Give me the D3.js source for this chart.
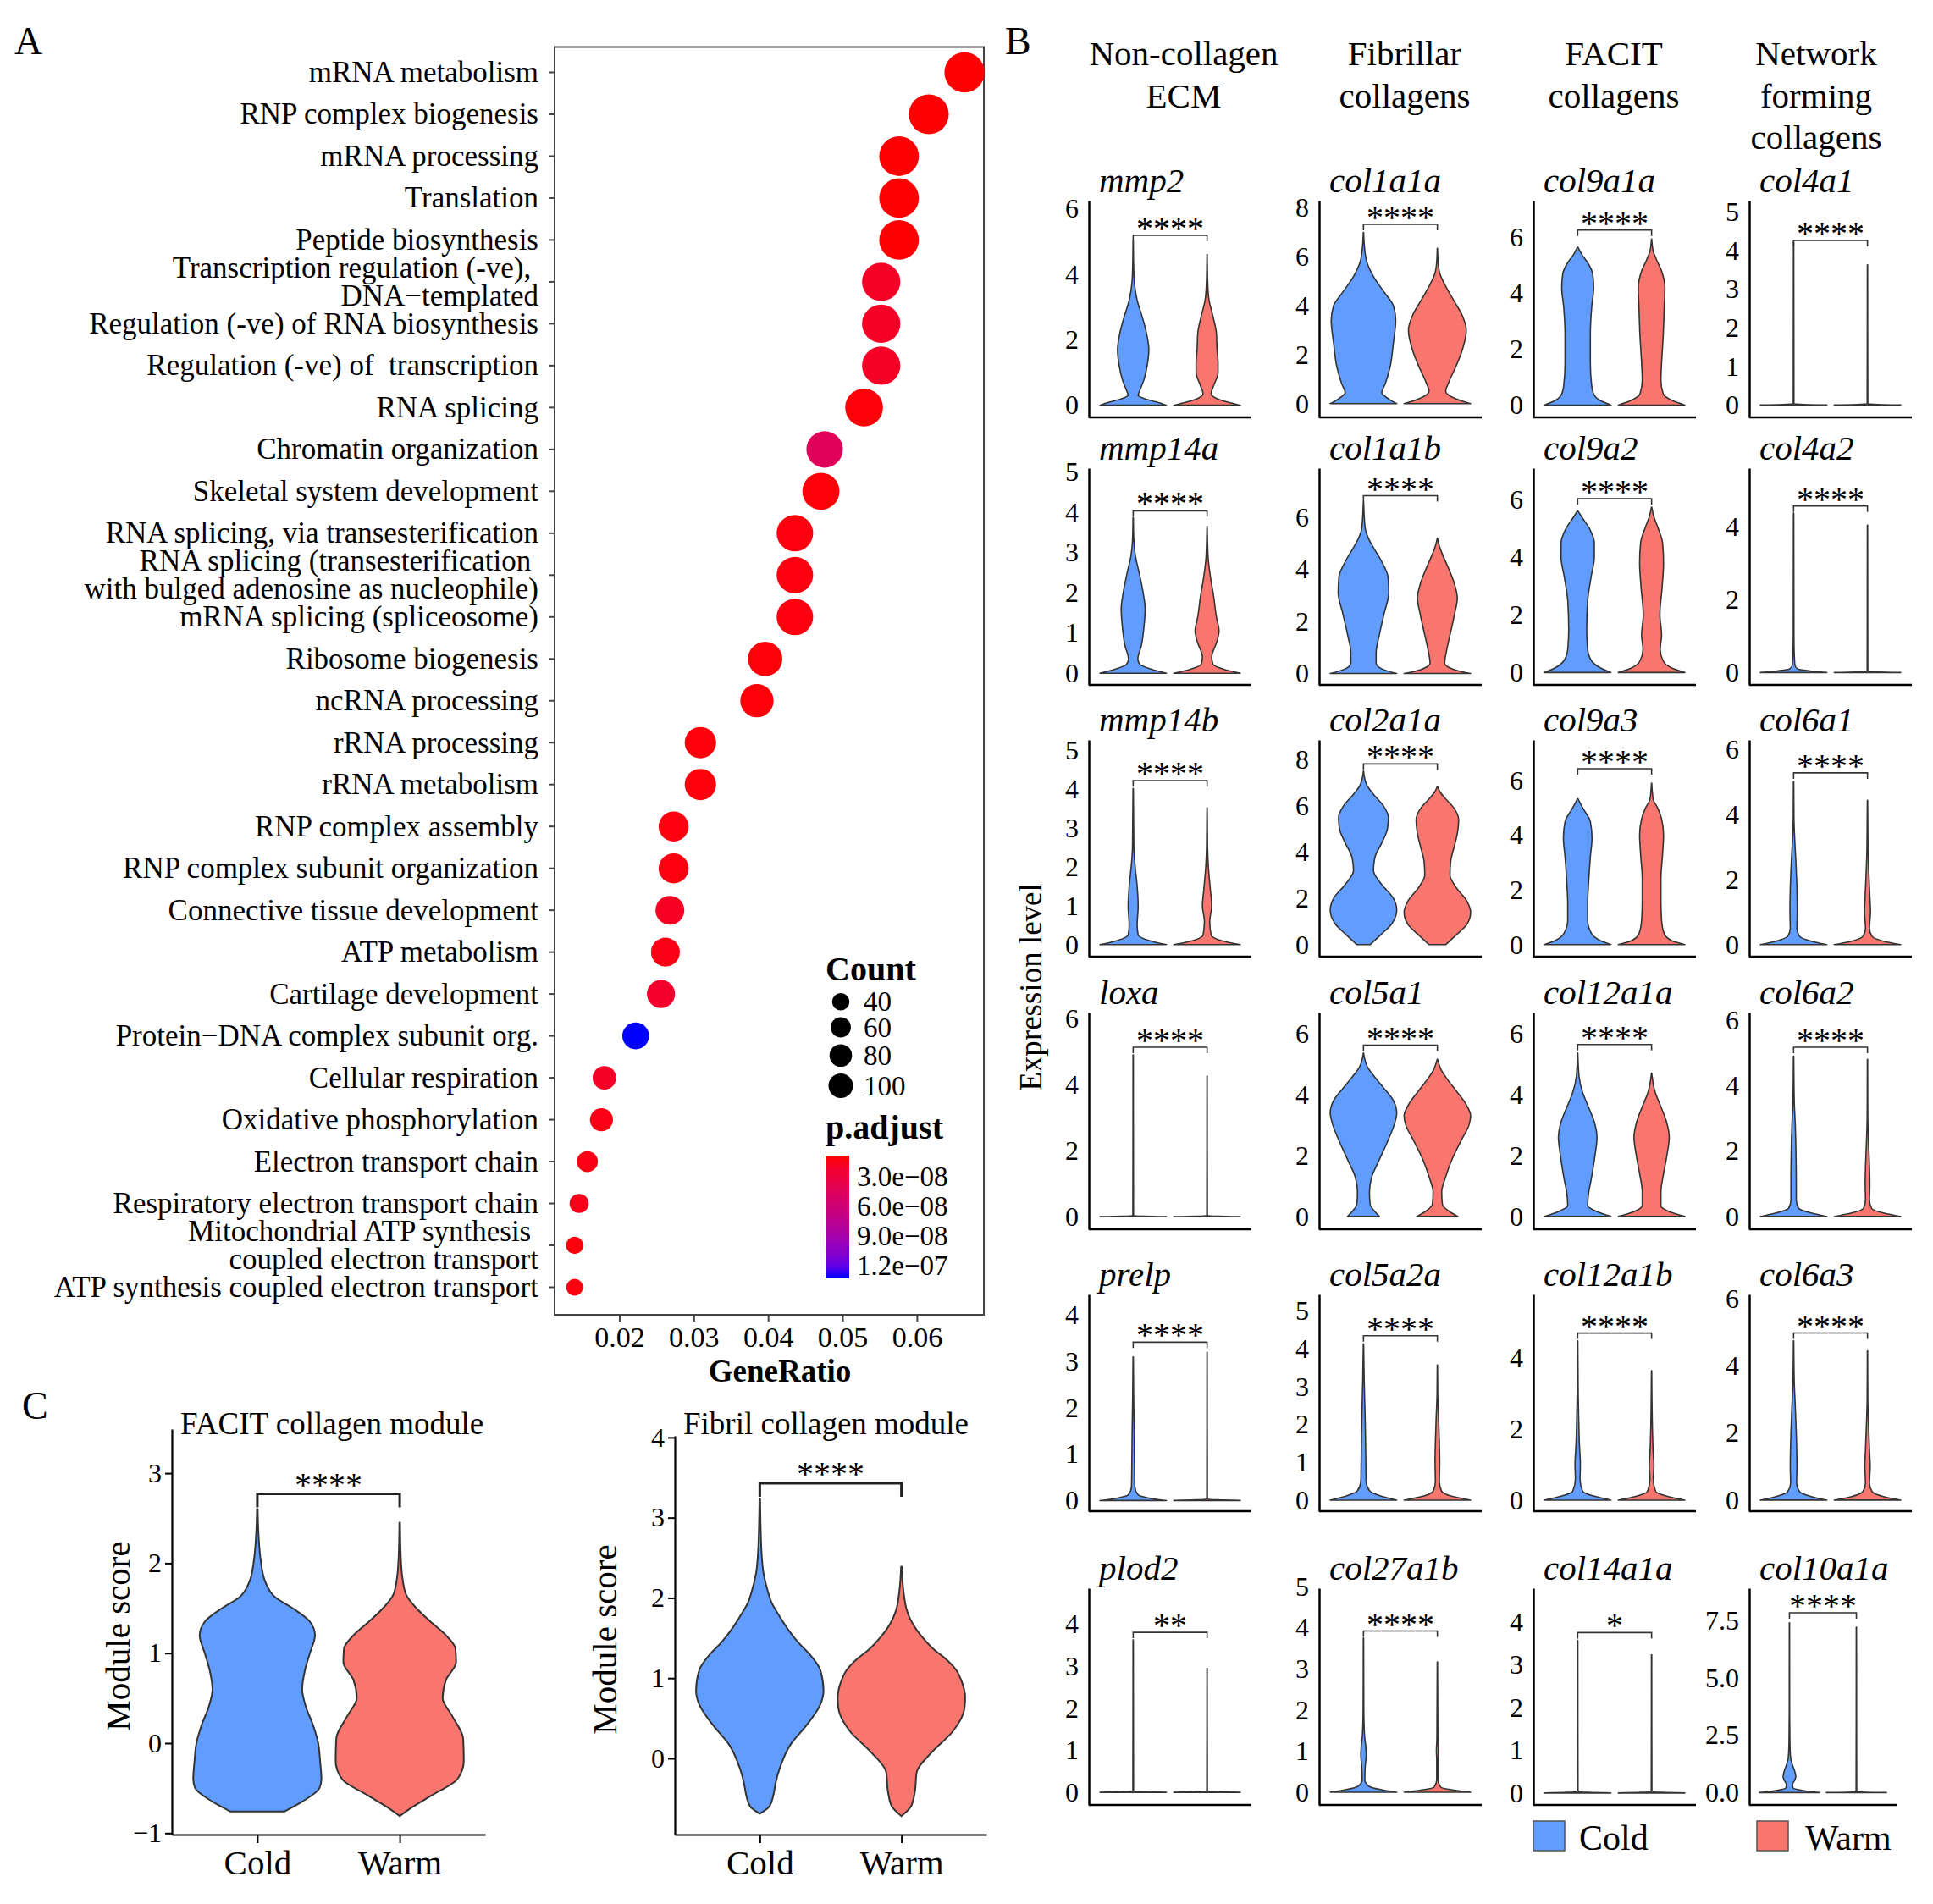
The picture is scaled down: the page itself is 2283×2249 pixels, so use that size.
<!DOCTYPE html>
<html>
<head>
<meta charset="utf-8">
<script src="https://cdn.jsdelivr.net/npm/d3@7"></script>
<style>
  body { margin: 0; background: #fff; }
  svg text { font-family: "Liberation Serif", "Times New Roman", serif; fill: #000; }
</style>
</head>
<body>
<svg id="fig" width="2283" height="2249"></svg>
<script>
// ---------------- Panel A data ----------------
const goTerms = [
  "mRNA metabolism", "RNP complex biogenesis", "mRNA processing", "Translation", "Peptide biosynthesis",
  "Transcription regulation (-ve), \nDNA\u2212templated", "Regulation (-ve) of RNA biosynthesis",
  "Regulation (-ve) of  transcription", "RNA splicing", "Chromatin organization", "Skeletal system development",
  "RNA splicing, via transesterification", "RNA splicing (transesterification \nwith bulged adenosine as nucleophile)",
  "mRNA splicing (spliceosome)", "Ribosome biogenesis", "ncRNA processing", "rRNA processing", "rRNA metabolism",
  "RNP complex assembly", "RNP complex subunit organization", "Connective tissue development", "ATP metabolism",
  "Cartilage development", "Protein\u2212DNA complex subunit org.", "Cellular respiration", "Oxidative phosphorylation",
  "Electron transport chain", "Respiratory electron transport chain",
  "Mitochondrial ATP synthesis \ncoupled electron transport", "ATP synthesis coupled electron transport"
];
const geneRatio = [0.0664, 0.0616, 0.0576, 0.0576, 0.0576, 0.0552, 0.0552, 0.0552, 0.0529, 0.0476,
  0.0471, 0.0436, 0.0436, 0.0436, 0.0396, 0.0385, 0.0309, 0.0309, 0.0273, 0.0273,
  0.0268, 0.0262, 0.0256, 0.0222, 0.0180, 0.0176, 0.0157, 0.0146, 0.0140, 0.0140];
const geneCount = [327, 321, 317, 317, 317, 293, 293, 293, 284, 261,
  272, 261, 261, 261, 228, 210, 183, 183, 164, 164,
  149, 149, 140, 124, 90, 85, 67, 52, 39, 36];
const pAdjust = [9e-9, 9e-9, 9e-9, 9e-9, 9e-9, 2.0e-8, 2.0e-8, 2.0e-8, 1.0e-8, 4.5e-8,
  1.0e-8, 1.2e-8, 1.2e-8, 1.2e-8, 1.0e-8, 1.0e-8, 1.1e-8, 1.1e-8, 1.2e-8, 1.2e-8,
  1.8e-8, 1.3e-8, 2.2e-8, 1.33e-7, 2.0e-8, 1.3e-8, 1.3e-8, 1.5e-8, 1.1e-8, 1.2e-8];
const xTicksA = [0.02, 0.03, 0.04, 0.05, 0.06];
const countBreaks = [40, 60, 80, 100];
const pBreaks = [3e-8, 6e-8, 9e-8, 1.2e-7];

// ---------------- Panel B data ----------------
const groups = ["Cold", "Warm"];
const groupHeaders = [["Non-collagen", "ECM"], ["Fibrillar", "collagens"], ["FACIT", "collagens"], ["Network", "forming", "collagens"]];
const bGenes = ["mmp2", "col1a1a", "col9a1a", "col4a1",
  "mmp14a", "col1a1b", "col9a2", "col4a2",
  "mmp14b", "col2a1a", "col9a3", "col6a1",
  "loxa", "col5a1", "col12a1a", "col6a2",
  "prelp", "col5a2a", "col12a1b", "col6a3",
  "plod2", "col27a1b", "col14a1a", "col10a1a"];
const bTicks = [[0, 2, 4, 6], [0, 2, 4, 6, 8], [0, 2, 4, 6], [0, 1, 2, 3, 4, 5],
  [0, 1, 2, 3, 4, 5], [0, 2, 4, 6], [0, 2, 4, 6], [0, 2, 4],
  [0, 1, 2, 3, 4, 5], [0, 2, 4, 6, 8], [0, 2, 4, 6], [0, 2, 4, 6],
  [0, 2, 4, 6], [0, 2, 4, 6], [0, 2, 4, 6], [0, 2, 4, 6],
  [0, 1, 2, 3, 4], [0, 1, 2, 3, 4, 5], [0, 2, 4], [0, 2, 4, 6],
  [0, 1, 2, 3, 4], [0, 1, 2, 3, 4, 5], [0, 1, 2, 3, 4], [0, 2.5, 5, 7.5]];
const bRange = [[-0.37, 6.24], [-0.56, 8.30], [-0.44, 7.32], [-0.32, 5.29],
  [-0.29, 5.10], [-0.44, 7.90], [-0.43, 7.09], [-0.34, 5.60],
  [-0.31, 5.27], [-0.52, 8.85], [-0.44, 7.48], [-0.37, 6.28],
  [-0.38, 6.18], [-0.42, 6.69], [-0.42, 6.69], [-0.39, 6.23],
  [-0.23, 4.45], [-0.29, 5.43], [-0.31, 5.81], [-0.33, 6.13],
  [-0.30, 4.86], [-0.31, 4.96], [-0.28, 4.80], [-0.54, 8.90]];
const bBracket = [5.18, 7.33, 6.27, 4.26, 4.04, 6.84, 6.03, 4.56, 4.22, 7.81, 6.43, 5.27,
  5.13, 5.62, 5.64, 5.17, 3.42, 4.34, 4.72, 4.98, 3.81, 3.92, 3.76, 7.83];
const bSignif = ["****", "****", "****", "****", "****", "****", "****", "****", "****", "****", "****", "****",
  "****", "****", "****", "****", "****", "****", "****", "****", "**", "****", "*", "****"];
// violin outlines: [expression value, relative half-width]
const bCold = [
  [[0,1],[0.1,0.7],[0.2,0.35],[0.3,0.15],[0.45,0.2],[0.8,0.33],[1.2,0.42],[1.7,0.47],[2.2,0.4],[2.7,0.27],[3.2,0.12],[3.7,0.04],[4.2,0.015],[5.0,0.004]],
  [[0,1],[0.2,0.75],[0.45,0.55],[0.8,0.65],[1.5,0.8],[2.5,0.9],[3.4,0.97],[4.0,0.9],[4.6,0.6],[5.2,0.3],[5.8,0.1],[6.4,0.03],[7.0,0.004]],
  [[0,1],[0.15,0.7],[0.35,0.5],[0.7,0.42],[1.5,0.38],[2.5,0.38],[3.5,0.42],[4.2,0.48],[4.7,0.45],[5.1,0.3],[5.4,0.12],[5.65,0.01]],
  [[0,1],[0.03,0.01],[4.22,0.004]],
  [[0,1],[0.1,0.55],[0.22,0.2],[0.35,0.14],[0.7,0.25],[1.2,0.33],[1.6,0.36],[2.0,0.3],[2.5,0.18],[2.9,0.07],[3.3,0.02],[3.87,0.004]],
  [[0,1],[0.15,0.6],[0.4,0.38],[0.8,0.38],[1.5,0.48],[2.3,0.62],[3.1,0.76],[3.7,0.74],[4.3,0.55],[4.8,0.32],[5.2,0.15],[5.6,0.05],[6.6,0.004]],
  [[0,1],[0.15,0.7],[0.4,0.42],[0.8,0.3],[1.5,0.27],[2.5,0.3],[3.3,0.4],[4.0,0.5],[4.5,0.5],[5.0,0.35],[5.4,0.12],[5.6,0.01]],
  [[0,1],[0.05,0.45],[0.1,0.12],[0.2,0.04],[0.5,0.02],[1.0,0.01],[4.37,0.004]],
  [[0,1],[0.1,0.5],[0.25,0.15],[0.5,0.12],[1.0,0.15],[1.5,0.12],[2.0,0.06],[2.5,0.02],[4.02,0.004]],
  [[0,0.2],[0.4,0.5],[0.9,0.85],[1.5,1.0],[2.0,0.9],[2.6,0.55],[3.2,0.3],[3.8,0.35],[4.4,0.55],[5.0,0.72],[5.5,0.75],[6.0,0.6],[6.5,0.3],[6.9,0.1],[7.3,0.02],[7.5,0.004]],
  [[0,1],[0.15,0.68],[0.4,0.42],[0.9,0.3],[1.5,0.3],[2.3,0.33],[3.2,0.38],[3.9,0.43],[4.5,0.38],[4.9,0.2],[5.2,0.06],[5.33,0.01]],
  [[0,1],[0.1,0.55],[0.25,0.18],[0.5,0.1],[1.0,0.11],[1.7,0.1],[2.5,0.07],[3.3,0.03],[3.9,0.01],[5.0,0.004]],
  [[0,1],[0.03,0.01],[4.9,0.004]],
  [[0,0.48],[0.15,0.35],[0.4,0.2],[0.8,0.18],[1.3,0.25],[1.8,0.45],[2.4,0.7],[3.0,0.92],[3.4,1.0],[3.8,0.9],[4.2,0.62],[4.6,0.32],[4.9,0.12],[5.2,0.03],[5.36,0.004]],
  [[0,1],[0.15,0.6],[0.35,0.3],[0.7,0.32],[1.3,0.42],[2.0,0.52],[2.6,0.58],[3.1,0.5],[3.6,0.32],[4.1,0.14],[4.6,0.04],[5.36,0.004]],
  [[0,1],[0.1,0.55],[0.25,0.15],[0.5,0.08],[1.0,0.08],[2.0,0.07],[2.8,0.05],[3.5,0.02],[4.9,0.004]],
  [[0,1],[0.05,0.5],[0.12,0.15],[0.3,0.05],[0.8,0.04],[1.5,0.03],[2.2,0.015],[3.1,0.004]],
  [[0,1],[0.1,0.55],[0.25,0.18],[0.5,0.08],[1.0,0.07],[1.7,0.06],[2.5,0.04],[3.2,0.02],[4.13,0.004]],
  [[0,1],[0.1,0.55],[0.25,0.15],[0.6,0.07],[1.0,0.08],[1.6,0.05],[2.3,0.03],[3.0,0.015],[4.5,0.004]],
  [[0,1],[0.1,0.55],[0.25,0.18],[0.5,0.09],[1.0,0.1],[2.0,0.08],[2.8,0.05],[3.5,0.02],[4.75,0.004]],
  [[0,1],[0.03,0.01],[3.63,0.004]],
  [[0,1],[0.05,0.6],[0.15,0.15],[0.3,0.04],[0.6,0.05],[0.9,0.08],[1.1,0.07],[1.4,0.03],[2.0,0.01],[3.75,0.004]],
  [[0,1],[0.03,0.01],[3.58,0.004]],
  [[0,1],[0.08,0.5],[0.2,0.12],[0.35,0.1],[0.55,0.18],[0.7,0.21],[0.9,0.18],[1.2,0.1],[1.5,0.04],[2.2,0.015],[3.5,0.006],[7.4,0.004]]
];
const bWarm = [
  [[0,1],[0.1,0.6],[0.2,0.3],[0.35,0.12],[0.6,0.2],[1.0,0.33],[1.3,0.33],[1.7,0.3],[2.2,0.28],[2.7,0.18],[3.2,0.06],[3.7,0.02],[4.6,0.004]],
  [[0,1],[0.2,0.55],[0.5,0.25],[0.9,0.35],[1.5,0.55],[2.2,0.75],[3.0,0.87],[3.6,0.75],[4.2,0.5],[4.8,0.25],[5.3,0.08],[5.8,0.02],[6.35,0.004]],
  [[0,1],[0.15,0.65],[0.4,0.35],[0.9,0.28],[1.5,0.3],[2.5,0.35],[3.5,0.38],[4.2,0.4],[4.8,0.3],[5.2,0.15],[5.5,0.05],[5.95,0.004]],
  [[0,1],[0.03,0.01],[3.63,0.004]],
  [[0,1],[0.1,0.5],[0.22,0.18],[0.4,0.14],[0.8,0.3],[1.05,0.36],[1.4,0.28],[1.9,0.2],[2.4,0.1],[2.9,0.03],[3.65,0.004]],
  [[0,1],[0.15,0.5],[0.4,0.22],[0.9,0.28],[1.6,0.4],[2.3,0.52],[2.9,0.6],[3.5,0.5],[4.0,0.35],[4.5,0.18],[4.9,0.06],[5.2,0.004]],
  [[0,1],[0.15,0.62],[0.4,0.35],[0.8,0.26],[1.3,0.3],[2.0,0.25],[3.0,0.32],[3.8,0.36],[4.5,0.33],[5.0,0.2],[5.4,0.07],[5.74,0.004]],
  [[0,1],[0.03,0.01],[4.04,0.004]],
  [[0,1],[0.1,0.45],[0.25,0.12],[0.6,0.08],[1.0,0.14],[1.4,0.1],[2.0,0.04],[2.5,0.015],[3.52,0.004]],
  [[0,0.25],[0.4,0.55],[0.9,0.9],[1.4,1.0],[1.9,0.88],[2.5,0.55],[3.0,0.38],[3.6,0.4],[4.2,0.5],[4.8,0.6],[5.4,0.64],[5.9,0.5],[6.3,0.25],[6.6,0.08],[6.84,0.004]],
  [[0,1],[0.15,0.6],[0.4,0.38],[0.9,0.3],[1.6,0.28],[2.4,0.28],[3.3,0.33],[4.0,0.36],[4.6,0.3],[5.0,0.18],[5.3,0.05],[5.9,0.004]],
  [[0,1],[0.1,0.5],[0.25,0.14],[0.5,0.06],[1.0,0.09],[1.5,0.07],[2.2,0.04],[3.0,0.015],[4.43,0.004]],
  [[0,1],[0.03,0.01],[4.26,0.004]],
  [[0,0.62],[0.15,0.38],[0.4,0.15],[0.8,0.13],[1.3,0.25],[1.9,0.45],[2.5,0.72],[3.0,0.95],[3.3,1.0],[3.7,0.85],[4.1,0.58],[4.5,0.3],[4.8,0.12],[5.16,0.004]],
  [[0,1],[0.15,0.55],[0.35,0.28],[0.8,0.28],[1.4,0.36],[2.0,0.46],[2.6,0.53],[3.1,0.45],[3.6,0.28],[4.1,0.1],[4.7,0.004]],
  [[0,1],[0.1,0.5],[0.25,0.12],[0.5,0.06],[1.0,0.07],[1.5,0.06],[2.3,0.03],[3.0,0.01],[4.8,0.004]],
  [[0,1],[0.03,0.01],[3.2,0.004]],
  [[0,1],[0.1,0.45],[0.25,0.12],[0.5,0.06],[1.0,0.07],[1.5,0.06],[2.2,0.035],[2.8,0.01],[3.57,0.004]],
  [[0,1],[0.1,0.5],[0.25,0.12],[0.6,0.05],[1.0,0.07],[1.3,0.05],[2.0,0.025],[3.66,0.004]],
  [[0,1],[0.1,0.5],[0.25,0.14],[0.5,0.06],[1.0,0.08],[1.5,0.06],[2.3,0.03],[3.0,0.01],[4.45,0.004]],
  [[0,1],[0.03,0.01],[2.95,0.004]],
  [[0,1],[0.05,0.5],[0.12,0.1],[0.3,0.02],[0.8,0.02],[1.0,0.03],[1.3,0.015],[3.17,0.004]],
  [[0,1],[0.03,0.01],[3.24,0.004]],
  [[0,1],[0.03,0.01],[7.2,0.004]]
];

// ---------------- Panel C data ----------------
const cModules = ["FACIT collagen module", "Fibril collagen module"];
const cTicks = [[-1, 0, 1, 2, 3], [0, 1, 2, 3, 4]];
const cRange = [[-1.016, 3.49], [-0.95, 4.02]];
const cBracket = [2.77, 3.43];
const cCold = [
  [[-0.76,0.42],[-0.65,0.7],[-0.5,0.97],[-0.4,1.0],[-0.2,0.98],[0.0,0.95],[0.2,0.87],[0.4,0.76],[0.6,0.7],[0.8,0.74],[1.0,0.82],[1.2,0.9],[1.35,0.82],[1.5,0.55],[1.62,0.28],[1.8,0.12],[2.05,0.05],[2.3,0.02],[2.6,0.005]],
  [[-0.69,0.0],[-0.6,0.15],[-0.47,0.21],[-0.3,0.25],[-0.13,0.31],[0.17,0.48],[0.42,0.74],[0.67,0.95],[0.84,1.0],[1.1,0.95],[1.3,0.78],[1.43,0.62],[1.6,0.45],[1.77,0.31],[1.95,0.18],[2.07,0.13],[2.3,0.06],[2.6,0.025],[3.24,0.005]]
];
const cWarm = [
  [[-0.81,0.0],[-0.7,0.22],[-0.58,0.5],[-0.4,0.9],[-0.2,1.0],[0.05,0.99],[0.3,0.82],[0.5,0.67],[0.7,0.72],[0.9,0.88],[1.05,0.87],[1.2,0.72],[1.35,0.48],[1.5,0.26],[1.65,0.1],[1.85,0.04],[2.1,0.015],[2.45,0.005]],
  [[-0.72,0.0],[-0.6,0.15],[-0.42,0.21],[-0.17,0.24],[0.08,0.48],[0.34,0.81],[0.63,0.99],[0.76,1.0],[0.95,0.95],[1.1,0.86],[1.25,0.68],[1.35,0.52],[1.5,0.34],[1.6,0.24],[1.75,0.13],[1.86,0.08],[2.1,0.03],[2.39,0.005]]
];

const groupColor = d3.scaleOrdinal().domain(groups).range(["#619CFF", "#F8766D"]);
const OUTLINE = "#333333";

const svg = d3.select("#fig");

// panel letters
[["A", 17, 64], ["B", 1187, 64], ["C", 26, 1676]].forEach(([t, x, y]) => {
  svg.append("text").attr("x", x).attr("y", y).attr("font-size", 46).text(t);
});

// ================= Panel A: dot plot =================
const boxA = { left: 655, right: 1162, top: 55.5, bottom: 1553 };
const xA = d3.scaleLinear().domain([0.0113, 0.069]).range([boxA.left, boxA.right]);
const yA = d3.scalePoint().domain(goTerms).range([85.5, 1520.5]);
const rA = d3.scaleSqrt().domain([40, 100]).range([10.3, 14.5]);
const colA = d3.scaleLinear().domain([8.6e-9, 1.33e-7]).range(["#ff0000", "#0000ff"])
  .interpolate(d3.interpolateLab).clamp(true);

const gA = svg.append("g");
gA.append("rect")
  .attr("x", boxA.left).attr("y", boxA.top)
  .attr("width", boxA.right - boxA.left).attr("height", boxA.bottom - boxA.top)
  .attr("fill", "none").attr("stroke", "#444").attr("stroke-width", 2);

// y ticks + term labels (multi-line where needed)
goTerms.forEach(t => {
  const y = yA(t);
  gA.append("line").attr("x1", boxA.left - 7).attr("x2", boxA.left)
    .attr("y1", y).attr("y2", y).attr("stroke", "#444").attr("stroke-width", 2);
  const lines = t.split("\n");
  lines.forEach((ln, k) => {
    gA.append("text")
      .attr("x", 636)
      .attr("y", y + (k - (lines.length - 1) / 2) * 33)
      .attr("text-anchor", "end")
      .attr("dominant-baseline", "central")
      .attr("font-size", 35)
      .style("white-space", "pre")
      .text(ln);
  });
});

// dots
gA.selectAll("circle.go")
  .data(goTerms.map((t, i) => ({ term: t, ratio: geneRatio[i], count: geneCount[i], p: pAdjust[i] })))
  .join("circle")
  .attr("class", "go")
  .attr("cx", d => xA(d.ratio))
  .attr("cy", d => yA(d.term))
  .attr("r", d => rA(d.count))
  .attr("fill", d => colA(d.p));

// x axis
const axA = gA.append("g")
  .attr("transform", `translate(0,${boxA.bottom})`)
  .call(d3.axisBottom(xA).tickValues(xTicksA).tickFormat(d3.format(".2f")).tickSize(8).tickPadding(6))
  .attr("font-family", null).attr("font-size", 34);
axA.select(".domain").remove();
axA.selectAll("line").attr("stroke", "#444").attr("stroke-width", 2);

gA.append("text").attr("x", 921).attr("y", 1632).attr("text-anchor", "middle")
  .attr("font-size", 37).attr("font-weight", "bold").text("GeneRatio");

// Count legend
gA.append("text").attr("x", 975).attr("y", 1158).attr("font-size", 40).attr("font-weight", "bold").text("Count");
let ky = 1169;
countBreaks.forEach(c => {
  const r = rA(c);
  const cy = ky + r + 4;
  gA.append("circle").attr("cx", 993).attr("cy", cy).attr("r", r).attr("fill", "#000");
  gA.append("text").attr("x", 1020).attr("y", cy).attr("dominant-baseline", "central")
    .attr("font-size", 33).text(c);
  ky = cy + r + 4;
});

// p.adjust colour bar
gA.append("text").attr("x", 975).attr("y", 1345).attr("font-size", 40).attr("font-weight", "bold").text("p.adjust");
const barY = d3.scaleLinear().domain(colA.domain()).range([1365, 1510]);
const grad = svg.append("defs").append("linearGradient").attr("id", "pgrad")
  .attr("x1", 0).attr("y1", 0).attr("x2", 0).attr("y2", 1);
d3.range(0, 1.0001, 0.1).forEach(t => {
  grad.append("stop").attr("offset", t)
    .attr("stop-color", colA(colA.domain()[0] + t * (colA.domain()[1] - colA.domain()[0])));
});
gA.append("rect").attr("x", 975).attr("y", barY.range()[0]).attr("width", 28)
  .attr("height", barY.range()[1] - barY.range()[0]).attr("fill", "url(#pgrad)");
const sciFmt = v => {
  const [m, e] = d3.format(".1e")(v).split("e");
  const ev = +e;
  return m + "e" + (ev < 0 ? "\u2212" : "+") + String(Math.abs(ev)).padStart(2, "0");
};
pBreaks.forEach(p => {
  gA.append("text").attr("x", 1012).attr("y", barY(p)).attr("dominant-baseline", "central")
    .attr("font-size", 33).text(sciFmt(p));
});

// ================= Panel B: violin grid =================
const colX = [1286, 1558, 1811, 2066];
const rowTop = [237, 553, 874, 1196, 1529, 1876];
const panelH = 256;
const gB = svg.append("g");

// column headers
const headerX = [1398, 1659, 1906, 2145];
groupHeaders.forEach((lines, c) => {
  lines.forEach((ln, k) => {
    gB.append("text").attr("x", headerX[c]).attr("y", 77 + k * 49.5)
      .attr("text-anchor", "middle").attr("font-size", 41).text(ln);
  });
});

function violinArea(y, cx, half) {
  return d3.area()
    .y(d => y(d[0]))
    .x0(d => cx - d[1] * half)
    .x1(d => cx + d[1] * half)
    .curve(d3.curveMonotoneY);
}

bGenes.forEach((gene, i) => {
  const r = Math.floor(i / 4), c = i % 4;
  const x0 = colX[c], top = rowTop[r], bottom = top + panelH;
  const w = (r === 5 && c === 3) ? 174 : 192;
  const y = d3.scaleLinear().domain(bRange[i]).range([bottom, top]);
  const x = d3.scalePoint().domain(groups).range([x0, x0 + w]).padding(0.6);
  const half = x.step() * 0.45;
  const g = gB.append("g");

  // violins
  [bCold[i], bWarm[i]].forEach((prof, k) => {
    g.append("path")
      .attr("d", violinArea(y, x(groups[k]), half)(prof))
      .attr("fill", groupColor(groups[k]))
      .attr("stroke", OUTLINE).attr("stroke-width", 1.6).attr("stroke-linejoin", "round");
  });

  // y axis
  const isDec = bTicks[i].some(t => t % 1 !== 0);
  const ay = g.append("g").attr("transform", `translate(${x0},0)`)
    .call(d3.axisLeft(y).tickValues(bTicks[i]).tickFormat(d3.format(isDec ? ".1f" : "d"))
      .tickSize(0).tickSizeOuter(0).tickPadding(12))
    .attr("font-family", null).attr("font-size", 32);
  ay.select(".domain").attr("stroke", "#000").attr("stroke-width", 2.5);
  // x axis line
  g.append("line").attr("x1", x0).attr("x2", x0 + w).attr("y1", bottom).attr("y2", bottom)
    .attr("stroke", "#000").attr("stroke-width", 2.5);

  // gene title
  g.append("text").attr("x", x0 + 12).attr("y", top - 10)
    .attr("font-size", 41).attr("font-style", "italic").text(gene);

  // significance bracket
  const yb = y(bBracket[i]), tip = 7;
  const xa = x(groups[0]), xb = x(groups[1]);
  g.append("path")
    .attr("d", `M${xa},${yb + tip}V${yb}H${xb}V${yb + tip}`)
    .attr("fill", "none").attr("stroke", OUTLINE).attr("stroke-width", 1.6);
  g.append("text").attr("x", (xa + xb) / 2).attr("y", yb + 5)
    .attr("text-anchor", "middle").attr("font-size", 40).text(bSignif[i]);
});

gB.append("text")
  .attr("transform", "translate(1217,1166) rotate(-90)")
  .attr("text-anchor", "middle").attr("dominant-baseline", "central")
  .attr("font-size", 37).text("Expression level");

// group legend
[[1811, 1865], [2075, 2132]].forEach(([bx, tx], k) => {
  gB.append("rect").attr("x", bx).attr("y", 2151).attr("width", 37).attr("height", 35)
    .attr("fill", groupColor(groups[k])).attr("stroke", "#555").attr("stroke-width", 1.5);
  gB.append("text").attr("x", tx).attr("y", 2185).attr("font-size", 42).text(groups[k]);
});

// ================= Panel C: module score violins =================
const cAxisX = [203, 797], cAxisR = [573, 1165], cTop = [1688, 1696], cBottom = 2167;
const cLabelX = [139, 714];
const gC = svg.append("g");

cModules.forEach((name, k) => {
  const x0 = cAxisX[k], x1 = cAxisR[k];
  const y = d3.scaleLinear().domain(cRange[k]).range([cBottom, cTop[k]]);
  const x = d3.scalePoint().domain(groups).range([x0, x1]).padding(0.6);
  const half = x.step() * 0.45;
  const g = gC.append("g");

  [cCold[k], cWarm[k]].forEach((prof, j) => {
    g.append("path")
      .attr("d", violinArea(y, x(groups[j]), half)(prof))
      .attr("fill", groupColor(groups[j]))
      .attr("stroke", OUTLINE).attr("stroke-width", 2).attr("stroke-linejoin", "round");
  });

  const ay = g.append("g").attr("transform", `translate(${x0},0)`)
    .call(d3.axisLeft(y).tickValues(cTicks[k]).tickFormat(d3.format("d")).tickSize(8).tickSizeOuter(0).tickPadding(4))
    .attr("font-family", null).attr("font-size", 32);
  ay.select(".domain").attr("stroke", "#000").attr("stroke-width", 2.2);
  ay.selectAll(".tick line").attr("stroke", "#000").attr("stroke-width", 2);

  const ax = g.append("g").attr("transform", `translate(0,${cBottom})`)
    .call(d3.axisBottom(x).tickSize(10).tickSizeOuter(0).tickPadding(8))
    .attr("font-family", null).attr("font-size", 41);
  ax.select(".domain").attr("stroke", "#000").attr("stroke-width", 2.2);
  ax.selectAll(".tick line").attr("stroke", "#000").attr("stroke-width", 2);

  g.append("text").attr("x", x0 + 10).attr("y", 1694).attr("font-size", 37).text(name);

  g.append("text")
    .attr("transform", `translate(${cLabelX[k]},${(cTop[k] + cBottom) / 2 + 5}) rotate(-90)`)
    .attr("text-anchor", "middle").attr("dominant-baseline", "central")
    .attr("font-size", 41).text("Module score");

  const yb = y(cBracket[k]), tip = 16;
  const xa = x(groups[0]), xb = x(groups[1]);
  g.append("path")
    .attr("d", `M${xa},${yb + tip}V${yb}H${xb}V${yb + tip}`)
    .attr("fill", "none").attr("stroke", "#222").attr("stroke-width", 3);
  g.append("text").attr("x", (xa + xb) / 2).attr("y", yb + 2)
    .attr("text-anchor", "middle").attr("font-size", 40).text("****");
});
</script>
</body>
</html>
